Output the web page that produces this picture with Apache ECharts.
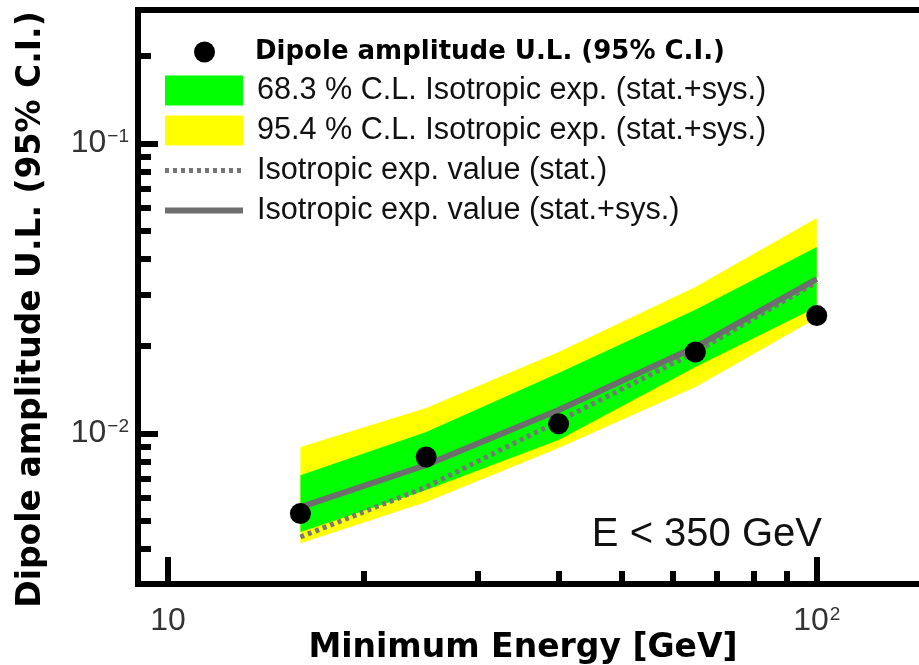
<!DOCTYPE html>
<html lang="en">
<head>
<meta charset="UTF-8">
<title>Dipole amplitude U.L.</title>
<script src="https://cdn.jsdelivr.net/npm/echarts@6/dist/echarts.min.js"></script>
<style>
  html, body { margin: 0; padding: 0; background: #fff; }
  #main { width: 919px; height: 665px; }
</style>
</head>
<body>
<div id="main"></div>
<script>
// values (log-log)
var energies = [16, 25, 40, 65, 100];
var upperLimits = [0.0053, 0.0083, 0.0108, 0.0191, 0.0255];
var expStatSys = [0.00558, 0.00779, 0.01205, 0.01987, 0.0341];
var expStat = [0.0044, 0.00654, 0.01104, 0.0191, 0.0333];
var band68Low = [0.00458, 0.00639, 0.0095, 0.01696, 0.0273];
var band68High = [0.00719, 0.01012, 0.01617, 0.0267, 0.044];
var band95Low = [0.00419, 0.00581, 0.00891, 0.01446, 0.025];
var band95High = [0.00898, 0.01224, 0.0191, 0.032, 0.0553];

var xMajorTicks = [10, 100];
var xMinorTicks = [20, 30, 40, 50, 60, 70, 80, 90];
var yMajorTicks = [0.01, 0.1];
var yMinorTicks = [0.004, 0.005, 0.006, 0.007, 0.008, 0.009,
                   0.02, 0.03, 0.04, 0.05, 0.06, 0.07, 0.08, 0.09, 0.2];

var names = {
  ul: 'Dipole amplitude U.L. (95% C.I.)',
  b68: '68.3 % C.L. Isotropic exp. (stat.+sys.)',
  b95: '95.4 % C.L. Isotropic exp. (stat.+sys.)',
  stat: 'Isotropic exp. value (stat.)',
  statSys: 'Isotropic exp. value (stat.+sys.)'
};

var xMin = 8.99, xMax = 150;
var yMin = 0.00303, yMax = 0.2884;

var chart = echarts.init(document.getElementById('main'));

function pairs(ys) {
  return energies.map(function (e, i) { return [e, ys[i]]; });
}

function bandRender(low, high) {
  return function (params, api) {
    if (params.dataIndex !== 0) return;
    var pts = [];
    for (var i = 0; i < energies.length; i++) pts.push(api.coord([energies[i], high[i]]));
    for (var j = energies.length - 1; j >= 0; j--) pts.push(api.coord([energies[j], low[j]]));
    return {
      type: 'polygon',
      shape: { points: pts },
      style: { fill: api.visual('color') }
    };
  };
}

function powLabel(v) {
  var p = Math.round(Math.log(v) / Math.LN10);
  if (p === 1) return '{b|10}';
  return '{b|10}{s|' + (p < 0 ? '\u2212' + (-p) : p) + '}';
}

var labelRich = {
  b: { fontSize: 32, fontFamily: 'Liberation Sans', color: '#333' },
  s: { fontSize: 19, fontFamily: 'Liberation Sans', color: '#333', verticalAlign: 'top', padding: [0, 0, 0, 1] }
};

var hiddenIcon = { opacity: 0 };

var option = {
  animation: false,
  grid: {
    left: 138, top: 10, right: -12, bottom: 81,
    outerBoundsMode: 'none',
    show: true, borderColor: '#000', borderWidth: 6, backgroundColor: 'transparent'
  },
  legend: [{
    data: [names.ul],
    orient: 'vertical',
    left: 189, top: 34,
    itemWidth: 21, itemHeight: 21,
    textStyle: {
      fontFamily: 'DejaVu Sans', fontWeight: 'bold', fontSize: 26, color: '#000',
      padding: [0, 0, 0, 35]
    }
  }, {
    data: [
      { name: names.b68, icon: 'rect' },
      { name: names.b95, icon: 'rect' },
      { name: names.stat, itemStyle: hiddenIcon },
      { name: names.statSys, itemStyle: hiddenIcon }
    ],
    orient: 'vertical',
    left: 157, top: 70,
    itemWidth: 78, itemHeight: 30, itemGap: 9,
    lineStyle: { width: 'inherit' },
    textStyle: {
      fontFamily: 'Liberation Sans', fontSize: 30.6, color: '#111', lineHeight: 30,
      padding: [0, 0, 0, 9]
    }
  }],
  xAxis: [{
    type: 'log', logBase: 10, min: xMin, max: xMax,
    name: 'Minimum Energy [GeV]', nameLocation: 'middle', nameGap: 48,
    nameMoveOverlap: false,
    nameTextStyle: {
      fontFamily: 'DejaVu Sans', fontWeight: 'bold', fontSize: 33, color: '#000',
      padding: [0, 23, 0, 0]
    },
    axisLine: { show: false },
    splitLine: { show: false },
    axisTick: { inside: true, length: 27, lineStyle: { color: '#000', width: 6 }, customValues: xMajorTicks },
    axisLabel: { customValues: xMajorTicks, margin: 21, fontSize: 32, formatter: powLabel, rich: labelRich }
  }, {
    type: 'log', logBase: 10, min: xMin, max: xMax, position: 'bottom', offset: 0,
    axisLine: { show: false },
    splitLine: { show: false },
    axisTick: { inside: true, length: 13, lineStyle: { color: '#000', width: 6 }, customValues: xMinorTicks },
    axisLabel: { show: false }
  }],
  yAxis: [{
    type: 'log', logBase: 10, min: yMin, max: yMax,
    name: 'Dipole amplitude U.L. (95% C.I.)', nameLocation: 'middle', nameGap: 90,
    nameTextStyle: {
      fontFamily: 'DejaVu Sans', fontWeight: 'bold', fontSize: 33, color: '#000',
      padding: [0, 25, 0, 0]
    },
    axisLine: { show: false },
    splitLine: { show: false },
    axisTick: { inside: true, length: 20, lineStyle: { color: '#000', width: 6 }, customValues: yMajorTicks },
    axisLabel: { customValues: yMajorTicks, margin: 9, fontSize: 32, formatter: powLabel, rich: labelRich }
  }, {
    type: 'log', logBase: 10, min: yMin, max: yMax, position: 'left', offset: 0,
    axisLine: { show: false },
    splitLine: { show: false },
    axisTick: { inside: true, length: 13, lineStyle: { color: '#000', width: 6 }, customValues: yMinorTicks },
    axisLabel: { show: false }
  }],
  graphic: [{
    type: 'text',
    right: 97, top: 515,
    style: {
      text: 'E < 350 GeV',
      fontFamily: 'Liberation Sans', fontSize: 40, fill: '#111'
    }
  }],
  series: [{
    name: names.b95,
    type: 'custom',
    z: 1,
    itemStyle: { color: '#ffff00' },
    renderItem: bandRender(band95Low, band95High),
    data: energies.map(function (e, i) { return [e, band95Low[i], band95High[i]]; }),
    encode: { x: 0, y: [1, 2] }
  }, {
    name: names.b68,
    type: 'custom',
    z: 2,
    itemStyle: { color: '#00ff00' },
    renderItem: bandRender(band68Low, band68High),
    data: energies.map(function (e, i) { return [e, band68Low[i], band68High[i]]; }),
    encode: { x: 0, y: [1, 2] }
  }, {
    name: names.stat,
    type: 'line',
    z: 3,
    symbol: 'none',
    itemStyle: { color: '#777' },
    lineStyle: { color: '#777', width: 5, type: [4, 4] },
    data: pairs(expStat)
  }, {
    name: names.statSys,
    type: 'line',
    z: 4,
    symbol: 'none',
    itemStyle: { color: '#6e6e6e' },
    lineStyle: { color: '#6e6e6e', width: 6 },
    data: pairs(expStatSys)
  }, {
    name: names.ul,
    type: 'scatter',
    z: 5,
    symbol: 'circle',
    symbolSize: 21,
    itemStyle: { color: '#000', opacity: 1 },
    data: pairs(upperLimits)
  }]
};

chart.setOption(option);
</script>
</body>
</html>
